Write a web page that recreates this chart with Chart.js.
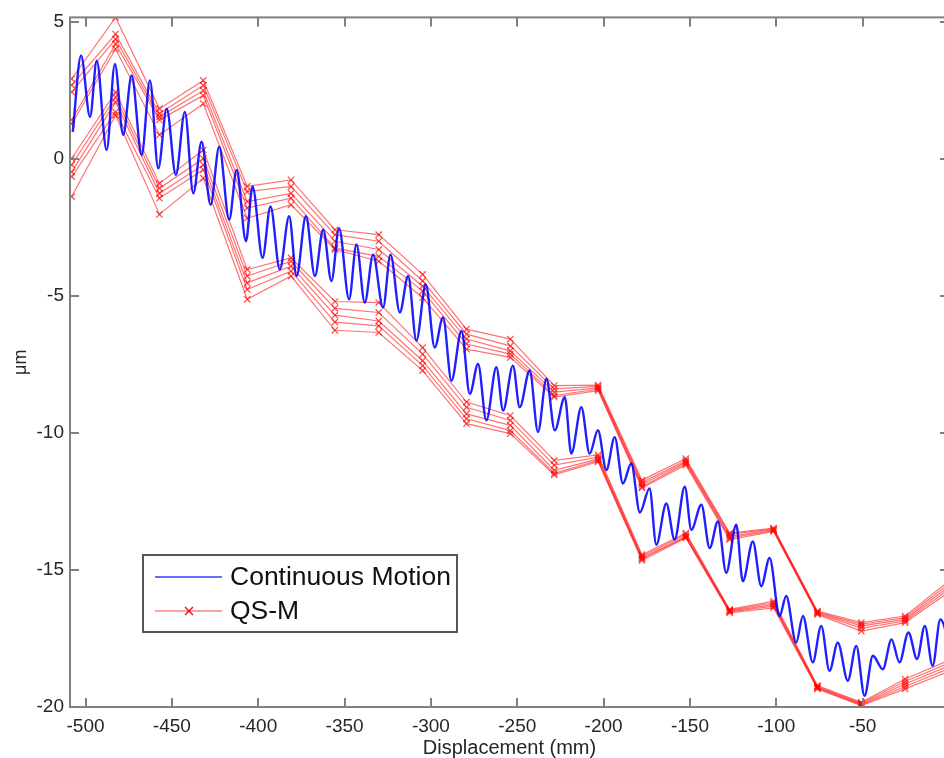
<!DOCTYPE html>
<html><head><meta charset="utf-8">
<script src="https://cdn.jsdelivr.net/npm/chart.js@4.4.1/dist/chart.umd.min.js"></script>
<style>
html,body{margin:0;padding:0;background:#fff;overflow:hidden;width:944px;height:758px;}
#wrap{position:absolute;left:0;top:0;width:960px;height:758px;}
</style></head><body>
<div id="wrap"><canvas id="c" width="960" height="758"></canvas></div>
<script>
// ---- data ----
const xTickVals = [-500,-450,-400,-350,-300,-250,-200,-150,-100,-50];
const yTickVals = [5,0,-5,-10,-15,-20];

// Continuous motion: peaks/troughs
const cmX = [-507.4,-502.6,-497.4,-493.5,-487.8,-483.0,-478.2,-473.3,-467.5,-462.7,-457.9,-453.0,-447.7,-442.5,-437.6,-432.8,-427.6,-422.6,-416.8,-412.5,-407.1,-403.3,-397.5,-392.9,-387.5,-382.1,-377.8,-372.4,-367.2,-362.4,-357.6,-353.2,-347.4,-343.1,-338.3,-333.5,-327.7,-323.4,-318.0,-313.2,-308.4,-303.0,-297.8,-293.0,-288.1,-282.3,-277.5,-272.7,-267.9,-262.1,-258.2,-252.5,-248.6,-242.8,-238.0,-233.1,-228.3,-222.5,-218.7,-212.9,-208.1,-203.3,-198.4,-193.6,-188.8,-184.0,-179.0,-173.4,-169.5,-163.7,-158.9,-153.0,-149.2,-143.4,-138.6,-133.8,-129.0,-123.2,-119.4,-113.6,-108.7,-103.9,-98.1,-94.3,-88.5,-84.6,-78.9,-74.0,-69.2,-64.4,-58.6,-53.7,-48.9,-44.1,-38.3,-33.3,-28.7,-23.5,-18.5,-14.0,-9.5,-5.0,0];
const cmY = [0.99,3.78,1.54,3.59,0.33,3.47,0.88,3.05,0.15,2.87,-0.34,1.84,-0.58,1.72,-1.25,0.63,-1.67,0.45,-2.21,-0.40,-3.00,-1.00,-3.61,-1.73,-4.03,-2.09,-4.27,-2.09,-4.27,-2.58,-4.45,-2.52,-5.12,-3.12,-5.24,-3.49,-5.42,-3.49,-5.60,-4.27,-6.63,-4.58,-6.88,-5.78,-8.09,-6.27,-8.57,-7.48,-9.54,-7.60,-9.18,-7.54,-9.06,-7.72,-9.96,-8.02,-9.90,-8.69,-10.75,-9.06,-10.75,-9.90,-11.35,-10.15,-11.84,-11.11,-12.90,-12.02,-14.08,-12.57,-13.89,-11.96,-13.53,-12.62,-14.20,-13.23,-15.10,-13.35,-15.41,-13.96,-15.59,-14.56,-16.68,-15.95,-17.65,-16.68,-18.37,-17.04,-18.68,-17.65,-19.04,-17.77,-19.59,-18.13,-18.62,-17.53,-18.37,-17.28,-18.25,-17.04,-18.50,-16.80,-17.60];

// QS-M: measurement positions (mm)
const qsmX = [-508,-482.6,-457.2,-431.8,-406.4,-381,-355.6,-330.2,-304.8,-279.4,-254,-228.6,-203.2,-177.8,-152.4,-127,-101.6,-76.2,-50.8,-25.4,0];
// upper runs
const qsmU1 = [2.93,5.17,1.84,2.87,-1.00,-0.76,-2.58,-2.76,-4.21,-6.21,-6.57,-8.27,-8.25,-11.72,-10.93,-13.65,-13.47,-16.50,-16.92,-16.68,-15.40];
const qsmU2 = [2.70,4.56,1.66,2.69,-1.19,-1.00,-2.76,-3.00,-4.45,-6.39,-6.82,-8.39,-8.30,-11.80,-11.00,-13.70,-13.50,-16.53,-16.98,-16.74,-15.50];
const qsmU3 = [2.44,4.38,1.54,2.50,-1.55,-1.25,-3.00,-3.30,-4.64,-6.57,-7.00,-8.51,-8.35,-11.88,-11.05,-13.77,-13.53,-16.56,-17.04,-16.80,-15.60];
const qsmU4 = [1.43,4.20,1.43,2.32,-1.79,-1.43,-3.25,-3.55,-4.82,-6.75,-7.12,-8.63,-8.40,-11.96,-11.10,-13.83,-13.56,-16.59,-17.12,-16.86,-15.70];
const qsmU5 = [1.29,4.02,0.88,2.02,-2.16,-1.67,-3.30,-3.73,-5.06,-6.94,-7.24,-8.69,-8.45,-12.00,-11.17,-13.89,-13.59,-16.62,-17.23,-16.92,-15.80];
// lower runs
const qsmL1 = [0.02,2.44,-0.89,0.33,-4.03,-3.61,-5.20,-5.24,-6.88,-8.87,-9.36,-11.00,-10.80,-14.44,-13.65,-16.44,-16.14,-19.22,-19.83,-18.98,-18.30];
const qsmL2 = [-0.21,2.26,-1.07,0.02,-4.27,-3.73,-5.45,-5.60,-7.12,-9.06,-9.54,-11.17,-10.88,-14.50,-13.70,-16.47,-16.20,-19.25,-19.86,-19.07,-18.40];
const qsmL3 = [-0.47,2.08,-1.25,-0.21,-4.52,-3.91,-5.70,-5.91,-7.36,-9.30,-9.72,-11.36,-10.95,-14.56,-13.77,-16.50,-16.26,-19.28,-19.89,-19.16,-18.50];
const qsmL4 = [-0.64,1.72,-1.43,-0.39,-4.76,-4.09,-5.95,-6.09,-7.54,-9.48,-9.91,-11.47,-11.00,-14.60,-13.80,-16.53,-16.32,-19.31,-19.92,-19.25,-18.60];
const qsmL5 = [-1.37,1.60,-2.02,-0.70,-5.12,-4.27,-6.25,-6.33,-7.72,-9.66,-10.02,-11.53,-11.05,-14.65,-13.83,-16.56,-16.38,-19.34,-19.95,-19.34,-18.70];
const qsmRuns = [qsmU1,qsmU2,qsmU3,qsmU4,qsmU5,qsmL1,qsmL2,qsmL3,qsmL4,qsmL5];

// ---- chart ----
const FONT = "'Liberation Sans', Arial, Helvetica, sans-serif";
const AXIS = '#808080';
const TXT = '#262626';

const datasets = [{
  label: 'Continuous Motion',
  data: cmX.map((x,i)=>({x:x,y:cmY[i]})),
  borderColor: 'rgba(0,0,255,0.88)',
  borderWidth: 2.4,
  pointRadius: 0,
  cubicInterpolationMode: 'monotone',
  fill: false
}];
qsmRuns.forEach((run,k)=>{
  datasets.push({
    label: 'QS-M',
    data: qsmX.map((x,i)=>({x:x,y:run[i]})),
    borderColor: 'rgba(255,0,0,0.55)',
    borderWidth: 1.2,
    pointStyle: 'crossRot',
    pointRadius: 4.5,
    pointBorderColor: 'rgba(255,0,0,0.7)',
    pointBorderWidth: 1.2,
    tension: 0,
    fill: false
  });
});

const boxPlugin = {
  id: 'boxTicks',
  afterDraw(chart){
    const {ctx, chartArea:a, scales:{x, y}} = chart;
    ctx.save();
    ctx.strokeStyle = AXIS;
    ctx.lineWidth = 2;
    ctx.strokeRect(a.left, a.top, a.right - a.left, a.bottom - a.top);
    const L = 9;
    ctx.beginPath();
    xTickVals.forEach(v=>{
      const px = Math.round(x.getPixelForValue(v));
      ctx.moveTo(px, a.bottom); ctx.lineTo(px, a.bottom - L);
      ctx.moveTo(px, a.top); ctx.lineTo(px, a.top + L);
    });
    yTickVals.forEach(v=>{
      const py = Math.round(y.getPixelForValue(v));
      ctx.moveTo(a.left, py); ctx.lineTo(a.left + L, py);
      ctx.moveTo(a.right, py); ctx.lineTo(a.right - L, py);
    });
    ctx.stroke();

    // legend
    const lx = 143, ly = 555, lw = 314, lh = 77;
    ctx.fillStyle = '#fff';
    ctx.fillRect(lx, ly, lw, lh);
    ctx.strokeStyle = '#555';
    ctx.lineWidth = 2;
    ctx.strokeRect(lx, ly, lw, lh);
    ctx.lineWidth = 2;
    ctx.strokeStyle = 'rgba(80,80,255,0.85)';
    ctx.beginPath(); ctx.moveTo(155, 577); ctx.lineTo(222, 577); ctx.stroke();
    ctx.strokeStyle = 'rgba(255,80,80,0.7)';
    ctx.lineWidth = 1.5;
    ctx.beginPath(); ctx.moveTo(155, 611); ctx.lineTo(222, 611); ctx.stroke();
    ctx.strokeStyle = 'rgba(230,0,0,0.9)';
    ctx.lineWidth = 1.5;
    ctx.beginPath();
    ctx.moveTo(185, 607); ctx.lineTo(193, 615);
    ctx.moveTo(193, 607); ctx.lineTo(185, 615);
    ctx.stroke();
    ctx.fillStyle = '#111';
    ctx.font = '26.5px ' + FONT;
    ctx.textBaseline = 'middle';
    ctx.textAlign = 'left';
    ctx.fillText('Continuous Motion', 230, 578);
    ctx.fillText('QS-M', 230, 612);
    ctx.restore();
  }
};

new Chart(document.getElementById('c'), {
  type: 'line',
  data: { datasets },
  options: {
    responsive: false,
    animation: false,
    devicePixelRatio: 1,
    layout: { padding: { left: 0, right: 11, top: 15, bottom: 0 } },
    plugins: { legend: { display: false }, tooltip: { enabled: false } },
    scales: {
      x: {
        type: 'linear', min: -509, max: 0,
        afterBuildTicks: s => { s.ticks = xTickVals.map(v=>({value:v})); },
        afterFit: s => { s.height = 51; },
        grid: { display: false, drawTicks: false },
        border: { display: false },
        ticks: { color: TXT, font: { family: FONT, size: 19 }, padding: 8, maxRotation: 0, autoSkip: false },
        title: { display: true, text: 'Displacement (mm)', color: TXT, font: { family: FONT, size: 20, lineHeight: 1 }, padding: { top: 0, bottom: 0 } }
      },
      y: {
        type: 'linear', min: -20, max: 5.17,
        afterBuildTicks: s => { s.ticks = yTickVals.map(v=>({value:v})); },
        afterFit: s => { s.width = 70; },
        grid: { display: false, drawTicks: false },
        border: { display: false },
        ticks: { color: TXT, font: { family: FONT, size: 19 }, padding: 6, autoSkip: false },
        title: { display: true, text: 'μm', color: TXT, font: { family: FONT, size: 18, lineHeight: 1 }, padding: { top: 12, bottom: 0 } }
      }
    }
  },
  plugins: [boxPlugin]
});
</script>
</body></html>
